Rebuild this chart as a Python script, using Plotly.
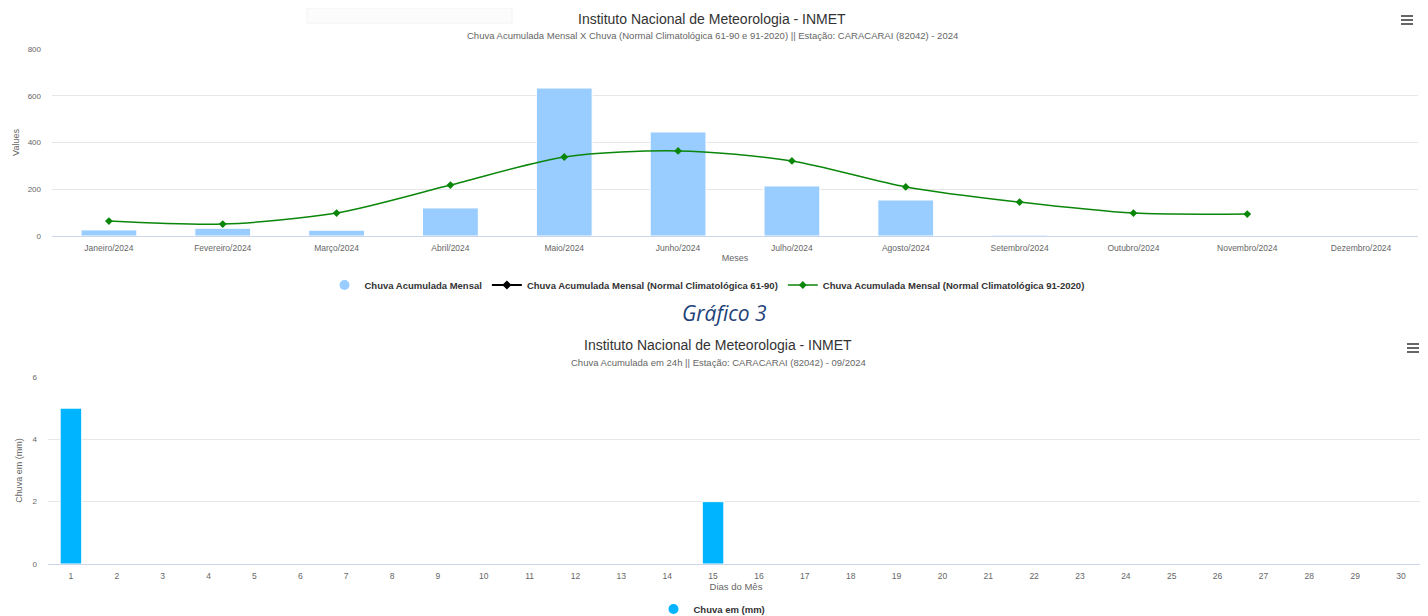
import plotly.graph_objects as go

# ---- data chart 1 ----
months = ["Janeiro/2024", "Fevereiro/2024", "Março/2024", "Abril/2024", "Maio/2024", "Junho/2024",
          "Julho/2024", "Agosto/2024", "Setembro/2024", "Outubro/2024", "Novembro/2024", "Dezembro/2024"]
chuva_mensal = [26, 33, 25, 120, 633, 445, 214, 154, 4, None, None, None]
normal_6190 = [None] * 12
normal_9120 = [64, 51, 98, 218, 338, 364, 321, 210, 145, 98, 94, None]

# ---- data chart 2 ----
dias = [str(d) for d in range(1, 31)]
chuva_dia = [5, 0, 0, 0, 0, 0, 0, 0, 0, 0, 0, 0, 0, 0, 2, 0, 0, 0, 0, 0, 0, 0, 0, 0, 0, 0, 0, 0, 0, 0]

# page body has an 8px margin; figure sized to fit the window exactly
OFF = 8
W, H = 1428 - OFF, 616 - OFF

FONT = "Liberation Sans, Arial, sans-serif"
GRID = "#e6e6e6"
AXLINE = "#ccd6eb"
TICK = "#666666"
TXT = "#333333"
BAR1 = "#99ccff"
BAR2 = "#00b4ff"
GREEN = "#0a870a"


def px(y):
    return 1 - (y - OFF) / H


def pxx(x):
    return (x - OFF) / W


fig = go.Figure()

# chart 1
fig.add_trace(go.Bar(x=months, y=chuva_mensal, marker=dict(color=BAR1, line=dict(color="white", width=1)), width=0.49,
                     showlegend=False, xaxis="x", yaxis="y", name="Chuva Acumulada Mensal"))
fig.add_trace(go.Scatter(x=[None], y=[None], mode="markers", marker=dict(symbol="circle", size=10, color=BAR1),
                         name="Chuva Acumulada Mensal", xaxis="x", yaxis="y", legend="legend"))
fig.add_trace(go.Scatter(x=months, y=normal_6190, mode="lines+markers", line=dict(color="#000000", width=2),
                         marker=dict(symbol="diamond", size=7, color="#000000"),
                         name="Chuva Acumulada Mensal (Normal Climatológica 61-90)", xaxis="x", yaxis="y", legend="legend"))
fig.add_trace(go.Scatter(x=months, y=normal_9120, mode="lines+markers",
                         line=dict(color=GREEN, width=1.5, shape="spline", smoothing=0.8),
                         marker=dict(symbol="diamond", size=6, color=GREEN), connectgaps=False,
                         name="Chuva Acumulada Mensal (Normal Climatológica 91-2020)", xaxis="x", yaxis="y", legend="legend"))

# chart 2
fig.add_trace(go.Bar(x=dias, y=chuva_dia, marker=dict(color=BAR2, line=dict(color="white", width=1)), width=0.47,
                     showlegend=False, xaxis="x2", yaxis="y2", name="Chuva em (mm)"))
fig.add_trace(go.Scatter(x=[None], y=[None], mode="markers", marker=dict(symbol="circle", size=10, color=BAR2),
                         name="Chuva em (mm)", xaxis="x2", yaxis="y2", legend="legend2"))

fig.update_layout(
    width=W, height=H,
    margin=dict(l=0, r=0, t=0, b=0, autoexpand=False),
    paper_bgcolor="white", plot_bgcolor="white",
    font=dict(family=FONT, color=TICK, size=9),
    barmode="overlay",
    xaxis=dict(domain=[pxx(52), pxx(1418)], anchor="y", type="category", range=[-0.5, 11.5], automargin=False,
               showgrid=False, showline=True, linecolor=AXLINE, linewidth=1, ticks="", zeroline=False,
               tickfont=dict(size=8.5, color=TICK), ticklabelstandoff=4, fixedrange=True,
               title=dict(text="Meses", font=dict(size=9, color=TICK), standoff=2)),
    yaxis=dict(domain=[px(236), px(49)], anchor="x", range=[0, 800], dtick=200, automargin=False,
               showgrid=True, gridcolor=GRID, gridwidth=1, zeroline=False, fixedrange=True,
               tickfont=dict(size=8, color=TICK), ticklabelstandoff=10,
               title=dict(text="Values", font=dict(size=9, color=TICK), standoff=6)),
    xaxis2=dict(domain=[pxx(48), pxx(1424)], anchor="y2", type="category", range=[-0.5, 29.5], automargin=False,
                showgrid=False, showline=True, linecolor=AXLINE, linewidth=1, ticks="", zeroline=False,
                tickfont=dict(size=8.5, color=TICK), ticklabelstandoff=4, fixedrange=True,
                title=dict(text="Dias do Mês", font=dict(size=9.5, color=TICK), standoff=2)),
    yaxis2=dict(domain=[px(564), px(377)], anchor="x2", range=[0, 6], dtick=2, automargin=False,
                showgrid=True, gridcolor=GRID, gridwidth=1, zeroline=False, fixedrange=True,
                tickfont=dict(size=8, color=TICK), ticklabelstandoff=10,
                title=dict(text="Chuva em (mm)", font=dict(size=9, color=TICK), standoff=8)),
    legend=dict(orientation="h", x=pxx(707), xanchor="center", y=px(285), yanchor="middle",
                font=dict(size=9.5, color=TXT, family=FONT, weight="bold"), itemwidth=30,
                bgcolor="rgba(0,0,0,0)", traceorder="normal"),
    legend2=dict(orientation="h", x=pxx(712), xanchor="center", y=px(609), yanchor="middle",
                 font=dict(size=9.5, color=TXT, family=FONT, weight="bold"), itemwidth=30,
                 bgcolor="rgba(0,0,0,0)"),
    showlegend=True,
)

annotations = [
    dict(text="Instituto Nacional de Meteorologia - INMET", x=pxx(712), y=px(19), font=dict(size=14, color=TXT)),
    dict(text="Chuva Acumulada Mensal X Chuva (Normal Climatológica 61-90 e 91-2020) || Estação: CARACARAI (82042) - 2024",
         x=pxx(712), y=px(36), font=dict(size=9.5, color=TICK)),
    dict(text="<i>Gráfico 3</i>", x=pxx(724), y=px(313), font=dict(size=21, color="#1e4279", family="Open Sans")),
    dict(text="Instituto Nacional de Meteorologia - INMET", x=pxx(718), y=px(345), font=dict(size=14, color=TXT)),
    dict(text="Chuva Acumulada em 24h || Estação: CARACARAI (82042) - 09/2024", x=pxx(718), y=px(362),
         font=dict(size=9.5, color=TICK)),
]
for a in annotations:
    a.update(xref="paper", yref="paper", showarrow=False, xanchor="center", yanchor="middle")
fig.update_layout(annotations=annotations)

shapes = []
# faint box of the page above the chart
shapes.append(dict(type="rect", xref="paper", yref="paper", x0=pxx(307), x1=pxx(512), y0=px(23), y1=px(8),
                   fillcolor="#fdfcfc", line=dict(color="#f4f1f1", width=1), layer="below"))
for cx, cy in [(1407, 20), (1413, 348)]:
    for dy in (-4, 0, 4):
        shapes.append(dict(type="line", xref="paper", yref="paper", x0=pxx(cx - 6), x1=pxx(cx + 6),
                           y0=px(cy + dy), y1=px(cy + dy), line=dict(color="#666666", width=2)))
fig.update_layout(shapes=shapes)

fig.write_html("out.html", config={"displayModeBar": False})
